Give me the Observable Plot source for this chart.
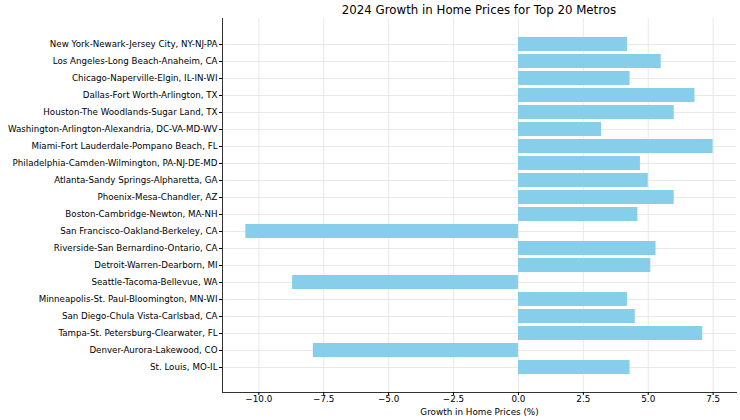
<!DOCTYPE html>
<html>
<head>
<meta charset="utf-8">
<script src="https://cdn.jsdelivr.net/npm/d3@7"></script>
<script src="https://cdn.jsdelivr.net/npm/@observablehq/plot@0.6"></script>
<style>
  body { margin: 0; background: #fff; font-family: "DejaVu Sans", sans-serif; }
  #title { height: 18px; line-height: 20px; font-size: 11.8px; color: #000; padding-left: 222px; width: 514px; text-align: center; white-space: nowrap; }
</style>
</head>
<body>
<div id="title">2024 Growth in Home Prices for Top 20 Metros</div>
<div id="chart"></div>
<script>
const metros = [
  "New York-Newark-Jersey City, NY-NJ-PA",
  "Los Angeles-Long Beach-Anaheim, CA",
  "Chicago-Naperville-Elgin, IL-IN-WI",
  "Dallas-Fort Worth-Arlington, TX",
  "Houston-The Woodlands-Sugar Land, TX",
  "Washington-Arlington-Alexandria, DC-VA-MD-WV",
  "Miami-Fort Lauderdale-Pompano Beach, FL",
  "Philadelphia-Camden-Wilmington, PA-NJ-DE-MD",
  "Atlanta-Sandy Springs-Alpharetta, GA",
  "Phoenix-Mesa-Chandler, AZ",
  "Boston-Cambridge-Newton, MA-NH",
  "San Francisco-Oakland-Berkeley, CA",
  "Riverside-San Bernardino-Ontario, CA",
  "Detroit-Warren-Dearborn, MI",
  "Seattle-Tacoma-Bellevue, WA",
  "Minneapolis-St. Paul-Bloomington, MN-WI",
  "San Diego-Chula Vista-Carlsbad, CA",
  "Tampa-St. Petersburg-Clearwater, FL",
  "Denver-Aurora-Lakewood, CO",
  "St. Louis, MO-IL"
];
const growth = [4.2, 5.5, 4.3, 6.8, 6.0, 3.2, 7.5, 4.7, 5.0, 6.0, 4.6, -10.5, 5.3, 5.1, -8.7, 4.2, 4.5, 7.1, -7.9, 4.3];
const xTicks = [-10, -7.5, -5, -2.5, 0, 2.5, 5, 7.5];
const xLabel = "Growth in Home Prices (%)";

const data = metros.map((m, i) => ({metro: m, value: growth[i]}));
const lo = d3.min(growth), hi = d3.max(growth);
const pad = (hi - lo) * 0.05;
const xDomain = [lo - pad, hi + pad];

const grid = "#e3e3e3";
const chart = Plot.plot({
  width: 740,
  height: 402,
  marginLeft: 222,
  marginRight: 4,
  marginTop: 0,
  marginBottom: 28,
  style: { fontFamily: "DejaVu Sans, sans-serif", fontSize: "9px", color: "#000", background: "#fff" },
  x: { domain: xDomain },
  y: { domain: metros, paddingInner: 0.2, paddingOuter: 0.99 },
  marks: [
    Plot.gridX(xTicks, { stroke: grid, strokeOpacity: 1, strokeWidth: 0.8 }),
    Plot.gridY({ stroke: grid, strokeOpacity: 1, strokeWidth: 0.8 }),
    Plot.barX(data, { x: "value", y: "metro", fill: "#87CEEB" }),
    Plot.ruleX([xDomain[0]], { stroke: "#333", strokeWidth: 1 }),
    Plot.frame({ anchor: "bottom", stroke: "#333", strokeWidth: 1 }),
    Plot.axisY({ tickSize: 3, tickPadding: 2, fontSize: 8.7, label: null }),
    Plot.axisX(xTicks, { tickSize: 3, tickPadding: 0, fontSize: 8.8, tickFormat: d3.format(".1f"),
      label: xLabel, labelAnchor: "center", labelArrow: "none", labelOffset: 22 })
  ]
});
document.getElementById("chart").appendChild(chart);
</script>
</body>
</html>
